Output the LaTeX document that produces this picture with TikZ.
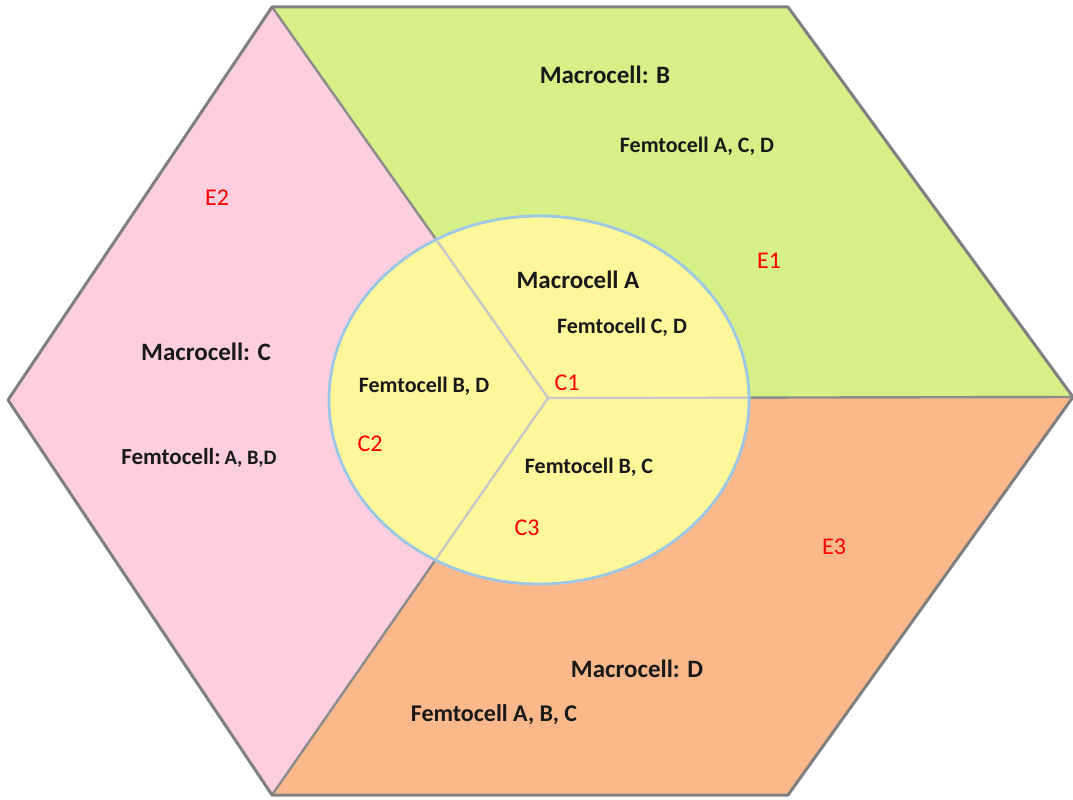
\documentclass[tikz,border=0pt]{standalone}
\usepackage{fontspec}
\setmainfont{Carlito}
\begin{document}
\begin{tikzpicture}[x=1pt,y=-1pt,
  macro/.style={font=\bfseries\fontsize{25}{27}\selectfont, text=black!90},
  femto/.style={font=\bfseries\fontsize{22}{24}\selectfont, text=black!90},
  zone/.style={font=\fontsize{24}{26}\selectfont, text=red},
  divider/.style={draw=black!45, line width=2.4pt},
  inner/.style={draw=black!22, line width=2.4pt}]
\definecolor{cgreen}{RGB}{214,239,135}
\definecolor{cpink}{RGB}{252,206,222}
\definecolor{corange}{RGB}{251,185,139}
\definecolor{cyellow}{RGB}{255,247,153}
\definecolor{cblue}{RGB}{157,199,230}
\useasboundingbox (0,0) rectangle (1073,800);

% hexagon corners and the common centre
\coordinate (TL) at (272,7);
\coordinate (TR) at (788,7);
\coordinate (R)  at (1073,397);
\coordinate (BR) at (788,795);
\coordinate (BL) at (272,795);
\coordinate (L)  at (8,400);
\coordinate (O)  at (548,398);

% the three outer sectors
\fill[cgreen]  (TL) -- (TR) -- (R) -- (O) -- cycle;
\fill[corange] (O) -- (R) -- (BR) -- (BL) -- cycle;
\fill[cpink]   (TL) -- (O) -- (BL) -- (L) -- cycle;

% sector boundaries
\draw[divider] (TL) -- (O);
\draw[divider] (O) -- (R);
\draw[divider] (O) -- (BL);

% hexagon outline
\draw[black!50, line width=3pt, line join=round] (TL) -- (TR) -- (R) -- (BR) -- (BL) -- (L) -- cycle;

% central macrocell
\fill[cyellow] (539,400) ellipse [x radius=210, y radius=184];
\begin{scope}
  \clip (539,400) ellipse [x radius=210, y radius=184];
  \draw[inner] (TL) -- (O);
  \draw[inner] (O) -- (R);
  \draw[inner] (O) -- (BL);
\end{scope}
\draw[cblue, line width=2.8pt] (539,400) ellipse [x radius=210, y radius=184];

% labels
\node[macro] (mb) at (605,75)  {Macrocell: B};
\node[femto] (fb) at (697,146) {Femtocell A, C, D};
\node[zone]  (e1) at (769,261) {E1};
\node[zone]  (e2) at (217,198) {E2};
\node[macro] (ma) at (578,280) {Macrocell A};
\node[femto] (fa) at (622,327) {Femtocell C, D};
\node[zone]  (c1) at (567,383) {C1};
\node[femto] (fbd) at (424,386) {Femtocell B, D};
\node[zone]  (c2) at (370,444) {C2};
\node[femto] (fbc) at (589,467) {Femtocell B, C};
\node[zone]  (c3) at (527,528) {C3};
\node[macro] (mc) at (206,352) {Macrocell: C};
\node[femto, font=\bfseries\fontsize{23}{25}\selectfont] (fc) at (199,458)
  {Femtocell:\,{\fontsize{20.5}{22}\selectfont A, B,D}};
\node[zone]  (e3) at (834,547) {E3};
\node[macro] (md) at (637,669) {Macrocell: D};
\node[femto, font=\bfseries\fontsize{24}{26}\selectfont] (fd) at (494,715) {Femtocell A, B, C};
\end{tikzpicture}
\end{document}
